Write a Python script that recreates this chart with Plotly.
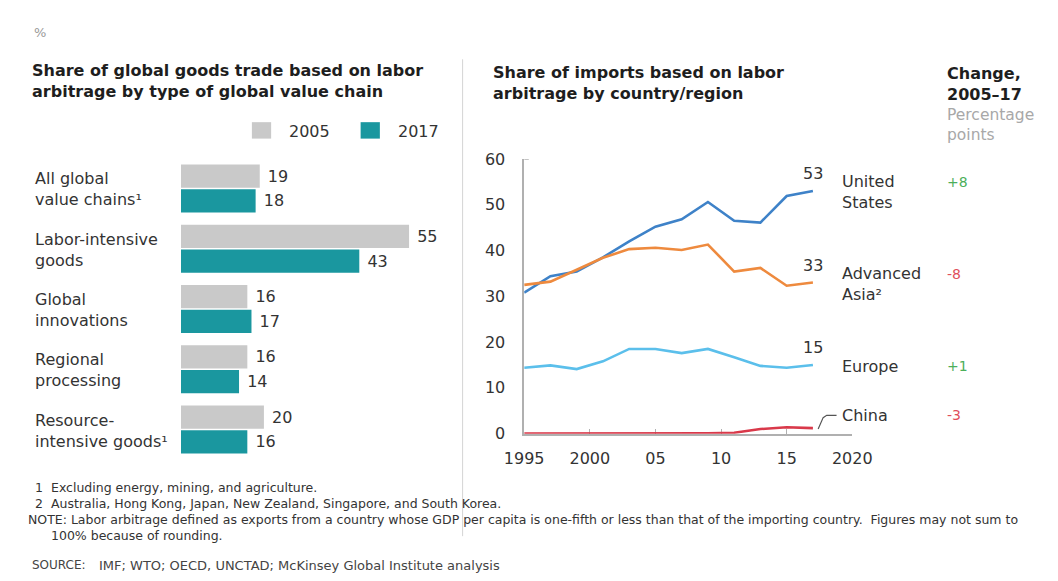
import plotly.graph_objects as go

W, H = 1058, 581

# ---- left panel: share of trade based on labor arbitrage, by value chain ----
chain_types = [
    "All global<br>value chains¹",
    "Labor-intensive<br>goods",
    "Global<br>innovations",
    "Regional<br>processing",
    "Resource-<br>intensive goods¹",
]
bar_years = ["2005", "2017"]
share_2005 = [19, 55, 16, 16, 20]
share_2017 = [18, 43, 17, 14, 16]

# ---- right panel: share of imports based on labor arbitrage ----
years = [1995, 1997, 1999, 2001, 2003, 2005, 2007, 2009, 2011, 2013, 2015, 2017]
united_states = [30.8, 34.4, 35.4, 38.5, 42.0, 45.2, 46.8, 50.6, 46.5, 46.1, 51.9, 53.0]
advanced_asia = [32.5, 33.2, 35.8, 38.4, 40.3, 40.6, 40.1, 41.3, 35.4, 36.2, 32.3, 33.0]
europe = [14.4, 14.9, 14.1, 15.8, 18.5, 18.5, 17.6, 18.5, 16.7, 14.8, 14.4, 15.0]
china = [0.0, 0.0, 0.0, 0.0, 0.0, 0.0, 0.1, 0.1, 0.2, 1.0, 1.4, 1.2]

region_names = ["United<br>States", "Advanced<br>Asia²", "Europe", "China"]
change_2005_17 = ["+8", "-8", "+1", "-3"]

x_tick_vals = [1995, 2000, 2005, 2010, 2015, 2020]
x_tick_text = ["1995", "2000", "05", "10", "15", "2020"]
y_tick_vals = [0, 10, 20, 30, 40, 50, 60]

FONT = "DejaVu Sans"
DARK = "#1e1e1e"
TEXT = "#333333"
GRAY_TXT = "#a8a8a8"
BAR_COLORS = ["#c9c9c9", "#1a979f"]
LINE_COLORS = ["#3e82c8", "#ee8a3e", "#5bbfeb", "#d9394a"]
CHANGE_COLORS = {"+": "#4caf5a", "-": "#e0505c"}
AXIS = "#b0b0b0"


def px(x):
    return x / W


def py(y):
    return 1 - y / H


fig = go.Figure()

# grouped horizontal bars
for name, vals, col in zip(bar_years, [share_2005, share_2017], BAR_COLORS):
    fig.add_trace(go.Bar(
        y=chain_types, x=vals, orientation="h", name=name,
        marker=dict(color=col, line=dict(width=0)),
        text=[str(v) for v in vals], texttemplate=" %{text}",
        textposition="outside", constraintext="none", cliponaxis=False,
        textfont=dict(family=FONT, size=16, color=TEXT),
        xaxis="x", yaxis="y", hoverinfo="skip",
    ))

# region lines
series = [united_states, advanced_asia, europe, china]
for name, vals, col in zip(region_names, series, LINE_COLORS):
    fig.add_trace(go.Scatter(
        x=years, y=vals, mode="lines", name=name.replace("<br>", " "),
        line=dict(color=col, width=2.6), cliponaxis=False,
        xaxis="x2", yaxis="y2", hoverinfo="skip",
    ))

ann = []


def text(x, y, s, size=16, color=TEXT, bold=False, xanchor="left", **kw):
    if bold:
        s = "<b>" + s + "</b>"
    d = dict(x=x, y=y, text=s, showarrow=False, xanchor=xanchor,
             yanchor="middle", align="left",
             font=dict(family=FONT, size=size, color=color))
    d.setdefault("xref", "paper")
    d.setdefault("yref", "paper")
    d.update(kw)
    ann.append(d)


text(px(12), py(24), "%", size=13, color="#9a9a9a")

# titles
text(px(10), py(74.5), "Share of global goods trade based on labor<br>arbitrage by type of global value chain",
     size=16, color=DARK, bold=True)
text(px(489), py(77), "Share of imports based on labor<br>arbitrage by country/region",
     size=16, color=DARK, bold=True)
text(px(961), py(78), "Change,<br>2005–17", size=16, color=DARK, bold=True)
text(px(961), py(120), "Percentage<br>points", size=15.5, color=GRAY_TXT)

# legend for the bars
shapes = []
legend_x = [241, 354]
for lx, col, name in zip(legend_x, BAR_COLORS, bar_years):
    shapes.append(dict(type="rect", xref="paper", yref="paper",
                       x0=px(lx), x1=px(lx + 20), y0=py(134), y1=py(117),
                       fillcolor=col, line=dict(width=0)))
    text(px(lx + 37), py(126.5), name, size=16, color=TEXT)

# category labels
for cat in chain_types:
    text(px(14), cat, cat, size=16, color=TEXT, yref="y", yshift=-1)

# end-of-line values, region names and changes
two_line = ["<br>" in n for n in region_names]
for i, (name, vals, chg) in enumerate(zip(region_names, series, change_2005_17)):
    chg_col = CHANGE_COLORS[chg[0]]
    if name == "China":
        y_lab = 4.0
        text(px(852), y_lab, name, size=16, color=TEXT, yref="y2")
        text(px(961), y_lab, chg, size=14, color=chg_col, yref="y2")
        continue
    last = vals[-1]
    text(years[-1], last, f"{last:.0f}", size=16, color=TEXT, xanchor="center",
         xref="x2", yref="y2", yshift=17)
    text(px(852), last, name, size=16, color=TEXT, yref="y2", yshift=-1.5)
    text(px(961), last, chg, size=14, color=chg_col, yref="y2",
         yshift=(8.5 if two_line[i] else -1.5))

# leader from China line end to its label
last_c = china[-1]
shapes.append(dict(type="path", xref="x2", yref="y2",
                   path=(f"M {years[-1] + 0.4},{last_c - 0.2} L {years[-1] + 0.78},{last_c + 2.3} "
                         f"L {years[-1] + 1.05},{last_c + 2.8} L {years[-1] + 1.8},{last_c + 2.8}"),
                   line=dict(color="#555555", width=1.2)))

# small hook on top of the y axis
shapes.append(dict(type="line", xref="x2", yref="y2", x0=1995, x1=1995.35, y0=60, y1=60,
                   line=dict(color=AXIS, width=1.5)))

# panel divider
shapes.append(dict(type="line", xref="paper", yref="paper", x0=px(460), x1=px(460),
                   y0=py(52), y1=py(545), line=dict(color="#d4d4d4", width=1)))

# footnotes
fn = 12.5
text(px(13), py(495), "1", size=fn, color=TEXT)
text(px(30), py(495), "Excluding energy, mining, and agriculture.", size=fn, color=TEXT)
text(px(13), py(511), "2", size=fn, color=TEXT)
text(px(30), py(511), "Australia, Hong Kong, Japan, New Zealand, Singapore, and South Korea.", size=fn, color=TEXT)
text(px(6), py(527.5), "NOTE: Labor arbitrage defined as exports from a country whose GDP per capita is one-fifth "
     "or less than that of the importing country.  Figures may not sum to", size=fn, color=TEXT)
text(px(30), py(544), "100% because of rounding.", size=fn, color=TEXT)
text(px(10), py(575), "SOURCE:", size=12, color="#444444")
text(px(80), py(575), "IMF; WTO; OECD, UNCTAD; McKinsey Global Institute analysis", size=13, color="#444444")

# axes geometry
bar_px_per_unit = 4.31
bar_x0 = 167.3
bar_range = 70
slot = 62.3
bar_top = 154.4

right_x0, right_x1 = 524, 865
right_y0, right_y60 = 439, 155

fig.update_layout(
    width=W, height=H,
    margin=dict(l=0, r=0, t=0, b=0),
    paper_bgcolor="white", plot_bgcolor="white",
    showlegend=False,
    barmode="group", bargap=0.18, bargroupgap=0.06,
    font=dict(family=FONT, color=TEXT),
    xaxis=dict(domain=[px(bar_x0), px(bar_x0 + bar_range * bar_px_per_unit)],
               range=[0, bar_range], visible=False, fixedrange=True),
    yaxis=dict(domain=[py(bar_top + 5 * slot), py(bar_top)],
               categoryorder="array", categoryarray=chain_types,
               autorange="reversed", visible=False, fixedrange=True),
    xaxis2=dict(domain=[px(right_x0), px(right_x1)], range=[1995, 2020],
                anchor="y2", showline=True, linecolor=AXIS, linewidth=1.5,
                ticks="inside", ticklen=5, tickwidth=1.2, tickcolor=AXIS,
                tickvals=x_tick_vals, ticktext=x_tick_text, showgrid=False,
                zeroline=False, layer="below traces", ticklabelstandoff=9,
                tickfont=dict(family=FONT, size=16, color=TEXT)),
    yaxis2=dict(domain=[py(right_y0), py(right_y60)], range=[0, 60],
                anchor="x2", showline=True, linecolor=AXIS, linewidth=1.5,
                ticks="", tickvals=y_tick_vals, showgrid=False, zeroline=False,
                layer="below traces", ticklabelstandoff=14,
                tickfont=dict(family=FONT, size=16, color=TEXT)),
    annotations=ann,
    shapes=shapes,
)

fig.write_html("out.html")
